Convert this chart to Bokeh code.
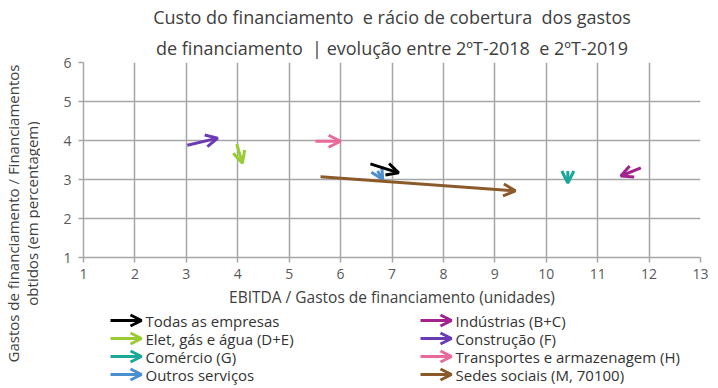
import math
from bokeh.plotting import figure
from bokeh.models import Arrow, OpenHead, Range1d, Title, FixedTicker
from bokeh.layouts import column, row
from bokeh.embed import file_html
from bokeh.resources import INLINE
from bokeh.core.properties import value

# ---- data ----
sectors = ["Todas as empresas", "Elet, gás e água (D+E)", "Comércio (G)", "Outros serviços",
           "Indústrias (B+C)", "Construção (F)", "Transportes e armazenagem (H)", "Sedes sociais (M, 70100)"]
colors = ["#000000", "#99cc33", "#1aa89a", "#4a8fd0",
          "#a3238e", "#6a3bb5", "#e8699b", "#8b5a2b"]
ebitda_2018 = [6.58, 3.98, 10.42, 6.72, 11.84, 3.02, 5.51, 5.61]
ebitda_2019 = [7.13, 4.09, 10.42, 6.82, 11.45, 3.61, 6.00, 9.40]
cost_2018 = [3.40, 3.91, 3.22, 3.22, 3.30, 3.88, 3.98, 3.07]
cost_2019 = [3.17, 3.42, 2.91, 3.00, 3.09, 4.06, 3.98, 2.71]
x_ticks = list(range(1, 14))
y_ticks = list(range(1, 7))

NB = "\u00a0"
title_1 = "Custo do financiamento" + NB + " e rácio de cobertura" + NB + " dos gastos"
title_2 = "de financiamento" + NB + " | evolução entre 2ºT-2018" + NB + " e 2ºT-2019"
x_label = "EBITDA / Gastos de financiamento (unidades)"
y_label_lines = ["Gastos de financiamento / Financiamentos", "obtidos (em percentagem)"]

FONT = "Open Sans"
GRID = "#a6a6a6"
TXT = "#404040"
W_LAB = 40
H_TOTAL = 388
H_MAIN = 310
H_LEG = H_TOTAL - H_MAIN
W_MAIN = 710 - W_LAB

# ---- y-axis title strip (left) ----
yl = figure(width=W_LAB, height=H_TOTAL, output_backend="svg", toolbar_location=None,
            x_range=Range1d(0, W_LAB), y_range=Range1d(0, H_TOTAL),
            min_border=0, min_border_left=0, min_border_right=0,
            min_border_top=0, min_border_bottom=0)
yl.title = None
yl.axis.visible = False
yl.grid.visible = False
yl.outline_line_color = None
yl.text(x=[12, 31], y=[H_TOTAL - 213, H_TOTAL - 213], text=y_label_lines,
        angle=math.pi / 2, text_align="center", text_baseline="middle",
        text_font=value(FONT), text_font_size="15px", text_color=TXT)

# ---- main chart ----
p = figure(width=W_MAIN, height=H_MAIN, output_backend="svg", toolbar_location=None,
           x_range=Range1d(x_ticks[0], x_ticks[-1]), y_range=Range1d(y_ticks[0], y_ticks[-1]),
           min_border_left=83 - W_LAB, min_border_right=10, min_border_top=61, min_border_bottom=53)
p.title = None
p.outline_line_color = None

t2 = Title(text=title_2, align="center", text_font=FONT, text_font_size="18px",
           text_font_style="normal", text_color=TXT, standoff=6)
t1 = Title(text=title_1, align="center", text_font=FONT, text_font_size="18px",
           text_font_style="normal", text_color=TXT, standoff=4)
p.add_layout(t2, "above")
p.add_layout(t1, "above")

for ax in (p.xaxis[0], p.yaxis[0]):
    ax.axis_line_color = GRID
    ax.axis_line_width = 1.5
    ax.major_tick_line_color = GRID
    ax.major_tick_line_width = 1.5
    ax.major_tick_out = 5
    ax.major_tick_in = 0
    ax.minor_tick_line_color = None
    ax.major_label_text_font = FONT
    ax.major_label_text_font_size = "14px"
    ax.major_label_text_color = "#595959"
    ax.axis_label_text_font = FONT
    ax.axis_label_text_font_size = "15.5px"
    ax.axis_label_text_font_style = "normal"
    ax.axis_label_text_color = TXT

p.xaxis[0].ticker = FixedTicker(ticks=x_ticks)
p.yaxis[0].ticker = FixedTicker(ticks=y_ticks)
p.xaxis[0].axis_label = x_label
p.xaxis[0].axis_label_standoff = 4
p.xaxis[0].major_label_standoff = 6
p.yaxis[0].major_label_standoff = 7

p.xgrid.ticker = FixedTicker(ticks=x_ticks)
p.ygrid.ticker = FixedTicker(ticks=y_ticks)
for g in (p.xgrid[0], p.ygrid[0]):
    g.grid_line_color = GRID
    g.grid_line_width = 1.5

order = [3, 7, 1, 2, 4, 5, 6, 0]
for i in order:
    p.add_layout(Arrow(end=OpenHead(size=12, line_color=colors[i], line_width=3),
                       x_start=ebitda_2018[i], y_start=cost_2018[i],
                       x_end=ebitda_2019[i], y_end=cost_2019[i],
                       line_color=colors[i], line_width=3))

# ---- legend figure (frame aligned with the main frame: page x 83..700) ----
lg = figure(width=W_MAIN, height=H_LEG, output_backend="svg", toolbar_location=None,
            x_range=Range1d(83, 700), y_range=Range1d(0, H_LEG),
            min_border=0, min_border_left=83 - W_LAB, min_border_right=10,
            min_border_top=0, min_border_bottom=0)
lg.title = None
lg.axis.visible = False
lg.grid.visible = False
lg.outline_line_color = None

col_x = [110, 420]
row_y = [68, 50, 32, 14]
tx, ty = [], []
for i, name in enumerate(sectors):
    c = i // 4
    r = i % 4
    x0 = col_x[c]
    y0 = row_y[r]
    lg.add_layout(Arrow(end=OpenHead(size=11, line_color=colors[i], line_width=3),
                        x_start=x0, y_start=y0, x_end=x0 + 31, y_end=y0,
                        line_color=colors[i], line_width=3))
    tx.append(x0 + 35)
    ty.append(y0)
lg.text(x=tx, y=ty, text=sectors, text_font=value(FONT), text_font_size="15px",
        text_color="#333333", text_baseline="middle", text_align="left")

layout = row(yl, column(p, lg, spacing=0), spacing=0)
open("out.html", "w").write(file_html(layout, INLINE))
